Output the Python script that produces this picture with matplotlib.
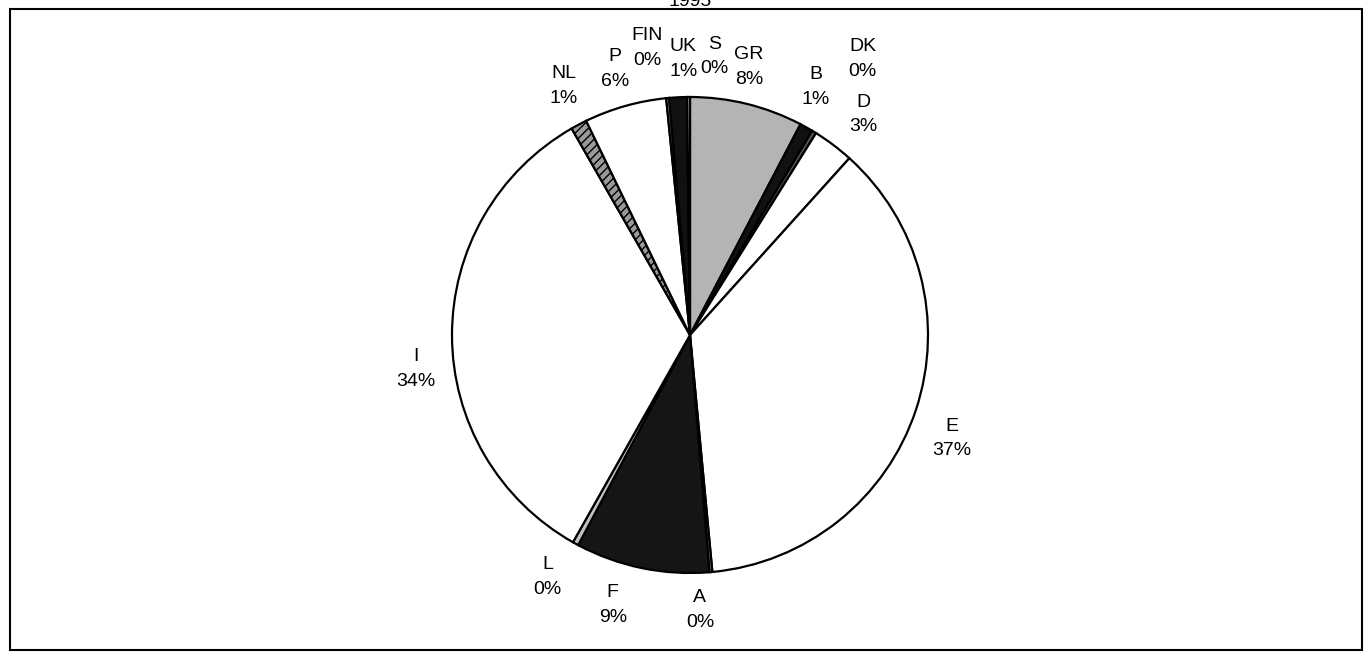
import matplotlib
matplotlib.use("Agg")
import matplotlib.pyplot as plt
from matplotlib.patches import Rectangle

plt.rcParams["font.family"] = ["Liberation Sans", "DejaVu Sans"]

# Shares by country, clockwise from 12 o'clock
countries = ["GR", "B", "DK", "D", "E", "A", "F", "L", "I", "NL", "P", "FIN", "UK", "S"]
shares = [7.7, 0.9, 0.3, 2.8, 36.9, 0.2, 9.1, 0.4, 33.6, 1.1, 5.6, 0.2, 1.2, 0.2]
title = "1995"

fills = ["#b4b4b4", "#111111", "#555555", "white", "white", "#777777", "#151515",
         "#c0c0c0", "white", "#9a9a9a", "white", "#888888", "#111111", "#999999"]
hatches = [None, None, None, None, None, None, None, None, None, "////", None, None, None, None]

# small nudges (in radius units) for labels that would collide
nudge = {"GR": (-0.03, 0.0), "B": (-0.04, 0.03), "DK": (0.12, 0.17), "D": (0.03, 0.0),
         "FIN": (-0.07, 0.05), "UK": (0.03, 0.0), "S": (0.11, 0.01), "I": (0.01, -0.14),
         "F": (-0.09, 0.0), "A": (-0.06, 0.0), "E": (0.0, -0.07), "L": (-0.04, 0.0),
         "NL": (0.01, 0.02)}

W, H = 1365, 655
fig = plt.figure(figsize=(W / 100, H / 100), dpi=100, facecolor="white")

# pie centre and radius in pixels
cx, cy, r = 690, H - 335, 238
lim = 1.45
half = r * lim
ax = fig.add_axes([(cx - half) / W, (cy - half) / H, 2 * half / W, 2 * half / H])

labels = [f"{c}\n{round(s)}%" for c, s in zip(countries, shares)]
wedges, texts = ax.pie(
    shares,
    labels=labels,
    colors=fills,
    startangle=90,
    counterclock=False,
    radius=1.0,
    labeldistance=1.16,
    wedgeprops=dict(edgecolor="black", linewidth=1.6),
    textprops=dict(fontsize=14, linespacing=1.6),
)
ax.set_xlim(-lim, lim)
ax.set_ylim(-lim, lim)
ax.set_aspect("equal")
ax.axis("off")

for w, h in zip(wedges, hatches):
    if h:
        w.set_hatch(h)
for t, c in zip(texts, countries):
    t.set_ha("center")
    t.set_va("center")
    x, y = t.get_position()
    dx, dy = nudge.get(c, (0, 0))
    t.set_position((x + dx, y + dy))

# frame round the chart
fig.add_artist(Rectangle((10 / W, 5 / H), 1352 / W, 641 / H, transform=fig.transFigure,
                         fill=False, edgecolor="black", linewidth=1.5))
fig.text(cx / W, (H - 6) / H, title, ha="center", va="baseline", fontsize=14)

fig.savefig("out.png", dpi=100, facecolor="white")
